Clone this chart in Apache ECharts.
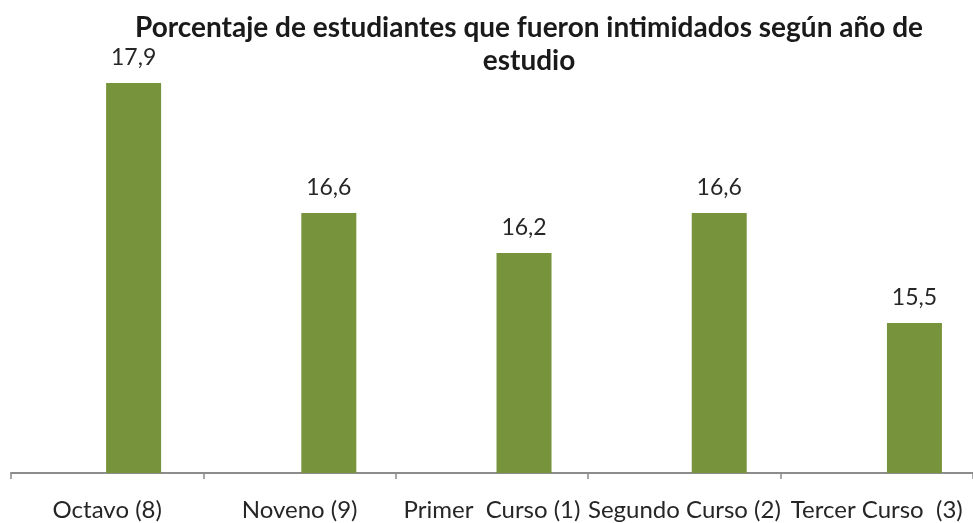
<!DOCTYPE html>
<html><head><meta charset="utf-8">
<script src="https://cdn.jsdelivr.net/npm/echarts@6/dist/echarts.min.js"></script>
<style>html,body{margin:0;padding:0;background:#fff}#c{width:973px;height:523px}</style>
</head><body><div id="c"></div>
<script>
const categories = ['Octavo (8)', 'Noveno (9)', 'Primer  Curso (1)', 'Segundo Curso (2)', 'Tercer Curso  (3)'];
const values = [17.9, 16.6, 16.2, 16.6, 15.5];
const titleText = 'Porcentaje de estudiantes que fueron intimidados según año de\nestudio';

const barData = values.map((v, i) => [i, v]);

const chart = echarts.init(document.getElementById('c'));
chart.setOption({
  animation: false,
  title: {
    text: titleText, left: 524, top: 6, textAlign: 'center',
    textStyle: { fontFamily: 'Lato', fontWeight: 'bold', fontSize: 28, color: '#1a1a1a', lineHeight: 33 }
  },
  grid: [
    { left: 11, right: 0, top: 23, bottom: 50 },
    { left: 36, right: 0, top: 23, bottom: 50 }
  ],
  xAxis: [
    {
      type: 'category', data: categories, gridIndex: 0,
      axisLine: { lineStyle: { color: '#8c8c8c', width: 2 } },
      axisTick: { show: true, length: 6, lineStyle: { color: '#8c8c8c', width: 1.5 } },
      axisLabel: { fontFamily: 'Lato', fontSize: 24, color: '#262626', margin: 25, interval: 0 }
    },
    {
      type: 'value', gridIndex: 1, min: -0.5, max: 4.3, show: false, splitLine: { show: false }
    }
  ],
  yAxis: [
    { type: 'value', gridIndex: 0, min: 14, max: 18.5, show: false, splitLine: { show: false } },
    { type: 'value', gridIndex: 1, min: 14, max: 18.5, show: false, splitLine: { show: false } }
  ],
  series: [{
    type: 'bar', data: barData, barWidth: 55, xAxisIndex: 1, yAxisIndex: 1,
    itemStyle: { color: '#77933C' },
    label: { show: true, position: 'top', distance: 14, fontFamily: 'Lato', fontSize: 23, color: '#262626',
      formatter: p => String(p.value[1]).replace('.', ',') }
  }]
});
</script></body></html>
